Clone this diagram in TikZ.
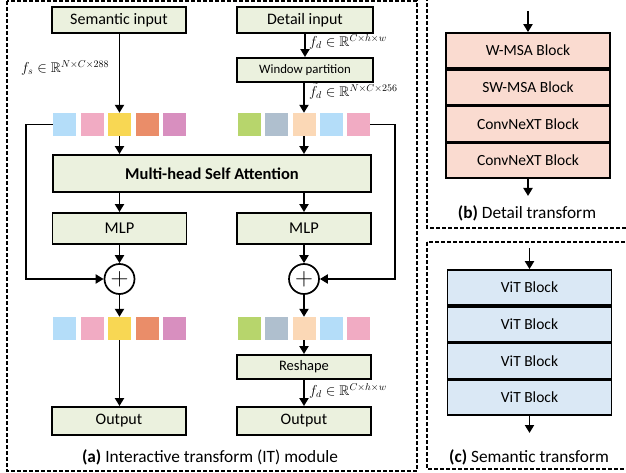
\documentclass[tikz,border=0pt]{standalone}
\usepackage{amssymb}
\usepackage{fontspec}
\setmainfont{Carlito}
\usetikzlibrary{arrows.meta}
\definecolor{boxgreen}{HTML}{EBF1DE}
\definecolor{boxpink}{HTML}{FADBD0}
\definecolor{boxblue}{HTML}{DAE8F5}
\definecolor{tblue}{HTML}{B4DDF9}
\definecolor{tpink}{HTML}{F1ABC3}
\definecolor{tyellow}{HTML}{F8D753}
\definecolor{torange}{HTML}{EA8D69}
\definecolor{tpurple}{HTML}{D88FBF}
\definecolor{tgreen}{HTML}{B7D56C}
\definecolor{tgray}{HTML}{AFBFCE}
\definecolor{tpeach}{HTML}{FBD8B6}
\tikzset{
  gbox/.style={draw, line width=1.9pt, fill=boxgreen, minimum width=134pt, inner sep=0pt, font=\fontsize{16}{18}\selectfont},
  stackbox/.style={draw, line width=1.7pt, minimum width=164pt, minimum height=35pt, inner sep=0pt, font=\fontsize{15.5}{17}\selectfont},
  tok/.style={minimum width=23pt, minimum height=23pt, inner sep=0pt},
  arr/.style={-{Triangle[length=8pt,width=9pt]}, line width=1.9pt},
  frame/.style={draw, line width=1.2pt, dash pattern=on 4pt off 2pt},
  lab/.style={font=\fontsize{14}{16}\selectfont, inner sep=1pt},
  captext/.style={font=\fontsize{17.3}{19}\selectfont},
  plus/.style={draw, circle, line width=1.7pt, minimum size=30pt, inner sep=0pt, font=\fontsize{26}{26}\selectfont}
}
\begin{document}
\begin{tikzpicture}[x=1pt,y=-1pt]
\useasboundingbox (0,0) rectangle (626,473);
% frames
\draw[frame] (7,1) rectangle (417,471);
\draw[frame] (427,-3) rectangle (632,228);
\draw[frame] (427,242) rectangle (632,469);

% (a) top
\node[gbox, minimum height=26pt] (sem) at (119,20) {Semantic input};
\node[gbox, minimum width=136pt, minimum height=26pt] (det) at (305,20) {Detail input};
\node[gbox, minimum width=136pt, minimum height=24pt, font=\fontsize{12.8}{14}\selectfont] (win) at (305,70) {Window partition};

% tokens row 1
\node[tok, fill=tblue]   (l1) at (64.5,124.5) {};
\node[tok, fill=tpink]   (l2) at (92,124.5) {};
\node[tok, fill=tyellow] (l3) at (119.5,124.5) {};
\node[tok, fill=torange] (l4) at (147,124.5) {};
\node[tok, fill=tpurple] (l5) at (174.5,124.5) {};
\node[tok, fill=tgreen]  (r1) at (249.5,124.5) {};
\node[tok, fill=tgray]   (r2) at (276.75,124.5) {};
\node[tok, fill=tpeach]  (r3) at (304,124.5) {};
\node[tok, fill=tblue]   (r4) at (331.25,124.5) {};
\node[tok, fill=tpink]   (r5) at (358.5,124.5) {};

\node[gbox, minimum width=318pt, minimum height=37pt, font=\fontsize{16.5}{18}\selectfont\bfseries] (mhsa) at (212,173.5) {Multi-head Self Attention};
\node[gbox, minimum height=31pt, font=\fontsize{16.5}{18}\selectfont] (mlpl) at (119.5,228.5) {MLP};
\node[gbox, minimum height=31pt, font=\fontsize{16.5}{18}\selectfont] (mlpr) at (304,228.5) {MLP};
\node[plus] (pl) at (119.5,279) {$+$};
\node[plus] (pr) at (304,279) {$+$};

% tokens row 2
\node[tok, fill=tblue]   (m1) at (64.5,328.5) {};
\node[tok, fill=tpink]   (m2) at (92,328.5) {};
\node[tok, fill=tyellow] (m3) at (119.5,328.5) {};
\node[tok, fill=torange] (m4) at (147,328.5) {};
\node[tok, fill=tpurple] (m5) at (174.5,328.5) {};
\node[tok, fill=tgreen]  (n1) at (249.5,328.5) {};
\node[tok, fill=tgray]   (n2) at (276.75,328.5) {};
\node[tok, fill=tpeach]  (n3) at (304,328.5) {};
\node[tok, fill=tblue]   (n4) at (331.25,328.5) {};
\node[tok, fill=tpink]   (n5) at (358.5,328.5) {};

\node[gbox, minimum height=24pt, font=\fontsize{14.5}{16}\selectfont] (resh) at (304,367) {Reshape};
\node[gbox, minimum height=28pt] (outl) at (119,421) {Output};
\node[gbox, minimum height=28pt] (outr) at (304,421) {Output};

% arrows (a)
\draw[arr] (sem.south -| l3) -- (l3.north);
\node[lab, anchor=west] at (20,68) {$f_s\in\mathbb{R}^{N\times C\times 288}$};
\draw[arr] (det.south -| win) -- (win.north);
\node[lab, anchor=west] at (308,42) {$f_d\in\mathbb{R}^{C\times h\times w}$};
\draw[arr] (win.south -| r3) -- (r3.north);
\node[lab, anchor=west] at (308,91) {$\tilde{f}_d\in\mathbb{R}^{N\times C\times 256}$};
\draw[arr] (l3.south) -- (l3.south |- mhsa.north);
\draw[arr] (r3.south) -- (r3.south |- mhsa.north);
\draw[arr] (mhsa.south -| mlpl) -- (mlpl.north);
\draw[arr] (mhsa.south -| mlpr) -- (mlpr.north);
\draw[arr] (mlpl.south) -- (pl.north);
\draw[arr] (mlpr.south) -- (pr.north);
\draw[arr] (l1.west) -- (26,124.5) -- (26,279) -- (pl.west);
\draw[arr] (r5.east) -- (395,124.5) -- (395,279) -- (pr.east);
\draw[arr] (pl.south) -- (m3.north);
\draw[arr] (pr.south) -- (n3.north);
\draw[arr] (m3.south) -- (m3.south |- outl.north);
\draw[arr] (n3.south) -- (resh.north);
\draw[arr] (resh.south) -- (outr.north);
\node[lab, anchor=west] at (308,391) {$f_d\in\mathbb{R}^{C\times h\times w}$};
\node[captext] (capa) at (210,457) {\textbf{(a)} Interactive transform (IT) module};

% (b)
\node[stackbox, fill=boxpink] (b1) at (528,50.5) {W-MSA Block};
\node[stackbox, fill=boxpink, anchor=north] (b2) at (b1.south) {SW-MSA Block};
\node[stackbox, fill=boxpink, anchor=north] (b3) at (b2.south) {ConvNeXT Block};
\node[stackbox, fill=boxpink, anchor=north] (b4) at (b3.south) {ConvNeXT Block};
\coordinate (bin) at (528,11);
\coordinate (bout) at (528,196);
\draw[arr] (bin) -- (b1.north);
\draw[arr] (b4.south) -- (bout);
\node[captext] (capb) at (527,213) {\textbf{(b)} Detail transform};

% (c)
\node[stackbox, fill=boxblue] (c1) at (529.5,287.5) {ViT Block};
\node[stackbox, fill=boxblue, anchor=north] (c2) at (c1.south) {ViT Block};
\node[stackbox, fill=boxblue, anchor=north] (c3) at (c2.south) {ViT Block};
\node[stackbox, fill=boxblue, anchor=north] (c4) at (c3.south) {ViT Block};
\coordinate (cin) at (529.5,248);
\coordinate (cout) at (529.5,433);
\draw[arr] (cin) -- (c1.north);
\draw[arr] (c4.south) -- (cout);
\node[captext] (capc) at (529,457) {\textbf{(c)} Semantic transform};
\end{tikzpicture}
\end{document}
